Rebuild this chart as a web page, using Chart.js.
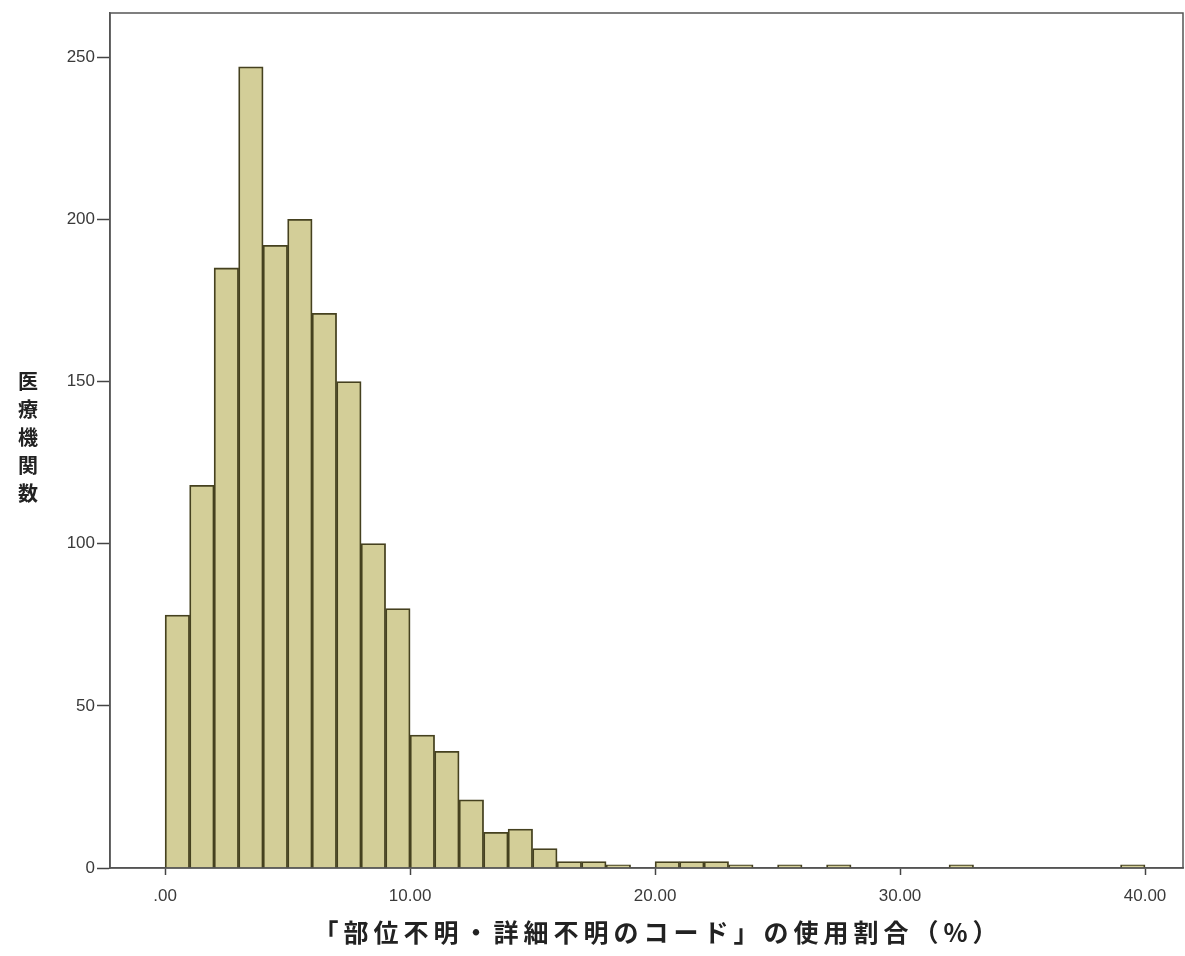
<!DOCTYPE html>
<html>
<head>
<meta charset="utf-8">
<script src="https://cdn.jsdelivr.net/npm/chart.js@4.4.0/dist/chart.umd.min.js"></script>
<style>
    html, body { margin: 0; padding: 0; background: #ffffff; }
    #box { width: 1185px; height: 956px; position: relative; }
</style>
</head>
<body>
<div id="box"><canvas id="myChartCanvas1"></canvas></div>
<script>
// inicio de cada classe do histograma (largura 1%)
const inicioClasses = [0, 1, 2, 3, 4, 5, 6, 7, 8, 9, 10, 11, 12, 13, 14, 15, 16, 17, 18, 19,
    20, 21, 22, 23, 24, 25, 26, 27, 28, 29, 30, 31, 32, 33, 34, 35, 36, 37, 38, 39];
// numero de instituicoes em cada classe
const contagens = [78, 118, 185, 247, 192, 200, 171, 150, 100, 80, 41, 36, 21, 11, 12, 6, 2, 2, 1, 0,
    2, 2, 2, 1, 0, 1, 0, 1, 0, 0, 0, 0, 1, 0, 0, 0, 0, 0, 0, 1];
const larguraClasse = 1;

const ticksX = [0, 10, 20, 30, 40];
const rotulosX = [".00", "10.00", "20.00", "30.00", "40.00"];
const ticksY = [0, 50, 100, 150, 200, 250];

const tituloX = "「部位不明・詳細不明のコード」の使用割合（%）";
const tituloY = "医療機関数";

let pontos = [];
inicioClasses.forEach((inicio, i) => {
    pontos.push({ x: inicio + larguraClasse / 2, y: contagens[i] });
});

// moldura em volta da area do grafico + titulos dos eixos
const molduraPlugin = {
    id: "moldura",
    afterDraw(chart) {
        const ctx = chart.ctx;
        const a = chart.chartArea;
        ctx.save();
        ctx.strokeStyle = "#555555";
        ctx.lineWidth = 1.5;
        ctx.strokeRect(a.left, a.top, a.right - a.left, a.bottom - a.top);

        // titulo do eixo y, um caractere por linha
        ctx.fillStyle = "#222222";
        ctx.font = "bold 20px 'Noto Sans CJK JP'";
        ctx.textAlign = "center";
        ctx.textBaseline = "middle";
        let y0 = 381;
        for (let i = 0; i < tituloY.length; i++) {
            ctx.fillText(tituloY[i], 28, y0 + i * 28);
        }

        // titulo do eixo x, com letras espacadas
        ctx.font = "bold 25px 'Noto Sans CJK JP'";
        ctx.letterSpacing = "5px";
        ctx.fillText(tituloX, 658, 932);
        ctx.restore();
    }
};

const config = {
    type: "bar",
    data: {
        datasets: [
            {
                label: tituloY,
                data: pontos,
                backgroundColor: "rgb(211, 206, 152)",
                borderColor: "#45411f",
                borderWidth: 1.8,
                barPercentage: 1,
                categoryPercentage: 1,
            },
        ],
    },
    options: {
        responsive: true,
        maintainAspectRatio: false,
        animation: false,
        layout: { padding: { top: 13, right: 2, left: 0, bottom: 0 } },
        plugins: {
            legend: { display: false },
            tooltip: { enabled: false },
        },
        scales: {
            x: {
                type: "linear",
                offset: false,
                min: -2.25,
                max: 41.55,
                afterBuildTicks: (scale) => {
                    scale.ticks = ticksX.map((v) => ({ value: v }));
                },
                afterFit: (scale) => { scale.height = 88; },
                ticks: {
                    autoSkip: false,
                    maxRotation: 0,
                    padding: 11,
                    color: "#3a3a3a",
                    font: { family: "'Liberation Sans', Arial", size: 17 },
                    callback: (valor) => {
                        let idx = ticksX.indexOf(valor);
                        return idx >= 0 ? rotulosX[idx] : "";
                    },
                },
                grid: {
                    offset: false,
                    drawOnChartArea: false,
                    drawTicks: true,
                    tickLength: 7,
                    tickColor: "#444444",
                    tickWidth: 1.5,
                },
                border: { color: "#555555", width: 1.5 },
                title: { display: false },
            },
            y: {
                min: 0,
                max: 263.6,
                afterBuildTicks: (scale) => {
                    scale.ticks = ticksY.map((v) => ({ value: v }));
                },
                afterFit: (scale) => { scale.width = 110; },
                ticks: {
                    padding: 2,
                    color: "#3a3a3a",
                    font: { family: "'Liberation Sans', Arial", size: 17 },
                },
                grid: {
                    drawOnChartArea: false,
                    drawTicks: true,
                    tickLength: 13,
                    tickColor: "#444444",
                    tickWidth: 1.5,
                },
                border: { color: "#555555", width: 1.5 },
            },
        },
    },
    plugins: [molduraPlugin],
};

var grafico1 = document.getElementById("myChartCanvas1");
let myChart = new Chart(grafico1, config);
</script>
</body>
</html>
